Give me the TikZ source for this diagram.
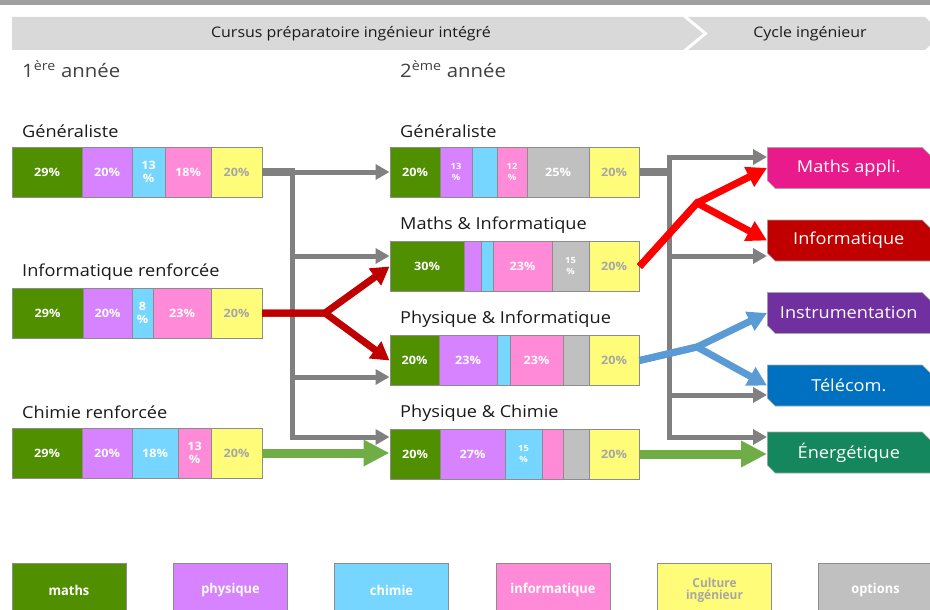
\documentclass[tikz,border=0pt]{standalone}
\usepackage{fontspec}
\setmainfont{Open Sans}[FakeStretch=1.1]
\newfontfamily\legfont{Open Sans}[FakeStretch=0.95]
\usetikzlibrary{arrows.meta,shapes.misc}
\definecolor{cg}{HTML}{4F8F00}
\definecolor{cp}{HTML}{D783FF}
\definecolor{cb}{HTML}{76D6FF}
\definecolor{cpk}{HTML}{FF8AD8}
\definecolor{cy}{HTML}{FFFC79}
\definecolor{cs}{HTML}{C0C0C0}
\definecolor{cellborder}{HTML}{8C8C8C}
\definecolor{ytext}{HTML}{A6A6A6}
\definecolor{banner}{HTML}{D9D9D9}
\definecolor{topbar}{HTML}{A0A0A0}
\definecolor{arrgray}{HTML}{808080}
\definecolor{darkred}{HTML}{C00000}
\definecolor{brightred}{HTML}{FF0000}
\definecolor{arrblue}{HTML}{5B9BD5}
\definecolor{arrgreen}{HTML}{70AD47}
\definecolor{rmaths}{HTML}{E91A8B}
\definecolor{rinfo}{HTML}{C00000}
\definecolor{rinstr}{HTML}{7030A0}
\definecolor{rtele}{HTML}{0070C0}
\definecolor{renerg}{HTML}{15875E}
\definecolor{txt}{HTML}{1A1A1A}
\newcommand\mycell[7][]{\node[cell,fill=#6,minimum width={(#4-#3)*1pt},#1] (#2) at ({(#3+#4)/2},#5) {#7};}
\begin{document}
\begin{tikzpicture}[x=1pt,y=-1pt,
  cell/.style={draw=cellborder,line width=0.8pt,minimum height=50pt,inner sep=0pt,outer sep=0pt,
    font=\fontsize{11.5}{13.5}\selectfont\bfseries,align=center,text=white},
  ycell/.style={text=ytext},
  small/.style={font=\fontsize{8.5}{11}\selectfont\bfseries},
  barbox/.style={minimum height=50pt,inner sep=0pt,outer sep=0pt,draw=none},
  lab/.style={anchor=west,font=\fontsize{16.5}{18}\selectfont,text=txt,inner sep=0pt},
  year/.style={anchor=west,font=\fontsize{18.5}{20}\selectfont,text=black!75,inner sep=0pt},
  dest/.style={chamfered rectangle,chamfered rectangle corners={north east,south west},
    chamfered rectangle xsep=4pt,chamfered rectangle ysep=4pt,minimum width=163pt,minimum height=41pt,
    draw=gray!70,line width=0.6pt,text=white,font=\fontsize{16.5}{18}\selectfont,anchor=west,inner sep=0pt},
  legendbox/.style={draw=cellborder,line width=0.8pt,minimum width=114pt,minimum height=54pt,
    inner sep=0pt,font=\legfont\fontsize{13.5}{13.5}\selectfont\bfseries,align=center,text=white},
  grayarr/.style={draw=arrgray,line width=5pt,-{Triangle[length=14pt,width=15pt]}},
  grayline/.style={draw=arrgray,line width=5pt},
  graythick/.style={draw=arrgray,line width=8pt},
  redarr/.style={draw=darkred,line width=7pt,line join=miter,-{Triangle[length=18pt,width=20pt]}},
  bredarr/.style={draw=brightred,line width=7pt,line join=miter,-{Triangle[length=20pt,width=21pt]}},
  bluearr/.style={draw=arrblue,line width=7pt,line join=miter,-{Triangle[length=19pt,width=20pt]}},
  greenarr/.style={draw=arrgreen,line width=9pt,-{Triangle[length=26pt,width=25pt]}}
]
\useasboundingbox (0,0) rectangle (930,610);
\clip (0,0) rectangle (930,610);
% top bar and banner
\fill[topbar] (0,0) rectangle (930,5.5);
\fill[banner] (12,17) -- (683,17) -- (703,33.5) -- (683,50) -- (12,50) -- cycle;
\fill[banner] (688,17) -- (925,17) -- (942,33.5) -- (925,50) -- (688,50) -- (708,33.5) -- cycle;
\node[font=\fontsize{14.5}{16}\selectfont,text=txt] (bannerA) at (351,34) {Cursus préparatoire ingénieur intégré};
\node[font=\fontsize{14.5}{16}\selectfont,text=txt] (bannerB) at (810,34) {Cycle ingénieur};
\node[year] (y1) at (22,69) {1\textsuperscript{ère} année};
\node[year] (y2) at (400,69) {2\textsuperscript{ème} année};
% left labels
\node[lab] (tL1) at (22,131) {Généraliste};
\node[lab] (tL2) at (22,272) {Informatique renforcée};
\node[lab] (tL3) at (22,412) {Chimie renforcée};
% middle labels
\node[lab] (tM1) at (400,131) {Généraliste};
\node[lab] (tM2) at (400,225) {Maths \& Informatique};
\node[lab] (tM3) at (400,319) {Physique \& Informatique};
\node[lab] (tM4) at (400,413) {Physique \& Chimie};
% bar boxes
\node[barbox,minimum width=250pt] (L1) at (137,172) {};
\node[barbox,minimum width=250pt] (L2) at (137,313) {};
\node[barbox,minimum width=250pt] (L3) at (137,453) {};
\node[barbox,minimum width=250pt] (M1) at (514.5,172) {};
\node[barbox,minimum width=250pt] (M2) at (514.5,266.5) {};
\node[barbox,minimum width=250pt] (M3) at (514.5,360.5) {};
\node[barbox,minimum width=250pt] (M4) at (514.5,454) {};
% cells L1
\mycell{a1}{12}{82}{172}{cg}{29\%}
\mycell{a2}{82}{132}{172}{cp}{20\%}
\mycell{a3}{132}{165}{172}{cb}{13\\\%}
\mycell{a4}{165}{211}{172}{cpk}{18\%}
\mycell[ycell]{a5}{211}{262}{172}{cy}{20\%}
% cells L2
\mycell{b1}{12}{83}{313}{cg}{29\%}
\mycell{b2}{83}{132}{313}{cp}{20\%}
\mycell{b3}{132}{153}{313}{cb}{8\\\%}
\mycell{b4}{153}{211}{313}{cpk}{23\%}
\mycell[ycell]{b5}{211}{262}{313}{cy}{20\%}
% cells L3
\mycell{c1}{12}{82}{453}{cg}{29\%}
\mycell{c2}{82}{132}{453}{cp}{20\%}
\mycell{c3}{132}{178}{453}{cb}{18\%}
\mycell{c4}{178}{211}{453}{cpk}{13\\\%}
\mycell[ycell]{c5}{211}{262}{453}{cy}{20\%}
% cells M1
\mycell{d1}{390}{440}{172}{cg}{20\%}
\mycell[small]{d2}{440}{472}{172}{cp}{13\\\%}
\mycell{d3}{472}{497}{172}{cb}{}
\mycell[small]{d4}{497}{527}{172}{cpk}{12\\\%}
\mycell{d5}{527}{589}{172}{cs}{25\%}
\mycell[ycell]{d6}{589}{639}{172}{cy}{20\%}
% cells M2
\mycell{e1}{390}{464}{266.5}{cg}{30\%}
\mycell{e2}{464}{481}{266.5}{cp}{}
\mycell{e3}{481}{493}{266.5}{cb}{}
\mycell{e4}{493}{552}{266.5}{cpk}{23\%}
\mycell[small]{e5}{552}{589}{266.5}{cs}{15\\\%}
\mycell[ycell]{e6}{589}{639}{266.5}{cy}{20\%}
% cells M3
\mycell{f1}{390}{439}{360.5}{cg}{20\%}
\mycell{f2}{439}{497}{360.5}{cp}{23\%}
\mycell{f3}{497}{510}{360.5}{cb}{}
\mycell{f4}{510}{563}{360.5}{cpk}{23\%}
\mycell{f5}{563}{589}{360.5}{cs}{}
\mycell[ycell]{f6}{589}{639}{360.5}{cy}{20\%}
% cells M4
\mycell{g1}{390}{440}{454}{cg}{20\%}
\mycell{g2}{440}{505}{454}{cp}{27\%}
\mycell[small]{g3}{505}{542}{454}{cb}{15\\\%}
\mycell{g4}{542}{563}{454}{cpk}{}
\mycell{g5}{563}{589}{454}{cs}{}
\mycell[ycell]{g6}{589}{639}{454}{cy}{20\%}
% destination boxes
\node[dest,fill=rmaths] (R1) at (767,168) {Maths appli.};
\node[dest,fill=rinfo] (R2) at (767,240.5) {Informatique};
\node[dest,fill=rinstr] (R3) at (767,313) {Instrumentation};
\node[dest,fill=rtele] (R4) at (767,385.5) {Télécom.};
\node[dest,fill=renerg] (R5) at (767,452.5) {Énergétique};
% left gray connectors
\coordinate (lvt) at (292,168);
\coordinate (lv1) at (292,172);
\coordinate (lv2) at (292,256);
\coordinate (lv3) at (292,377);
\coordinate (lv4) at (292,437);
\draw[graythick] (L1.east) -- (lv1);
\draw[grayline] (lvt) -- (292,439.5);
\draw[grayarr] (lv1) -- (M1.west);
\draw[grayarr] (lv2) -- (lv2 -| M2.west);
\draw[grayarr] (lv3) -- (lv3 -| M3.west);
\draw[grayarr] (lv4) -- (lv4 -| M4.west);
% right gray connectors
\coordinate (rvt) at (669,154.5);
\coordinate (rv0) at (669,172);
\coordinate (rv1) at (669,157);
\coordinate (rv2) at (669,256);
\coordinate (rv3) at (669,395);
\coordinate (rv4) at (669,437);
\draw[graythick] (M1.east) -- (rv0);
\draw[grayline] (rvt) -- (669,439.5);
\draw[grayarr] (rv1) -- (rv1 -| R1.west);
\draw[grayarr] (rv2) -- (rv2 -| R2.west);
\draw[grayarr] (rv3) -- (rv3 -| R4.west);
\draw[grayarr] (rv4) -- (rv4 -| R5.west);
% red from Informatique renforcee
\coordinate (br1) at (325,313);
\draw[redarr] (L2.east) -- (br1) -- (M2.west);
\draw[redarr] (L2.east) -- (br1) -- (M3.west);
% green
\draw[greenarr] (L3.east) -- (L3.east -| M4.west);
\draw[greenarr] (M4.east) -- (M4.east -| R5.west);
% bright red
\coordinate (br2) at (697,203);
\draw[bredarr] (M2.east) -- (br2) -- (R1.west);
\draw[bredarr] (M2.east) -- (br2) -- (R2.west);
% blue
\coordinate (br3) at (697,347);
\draw[bluearr] (M3.east) -- (br3) -- (R3.west);
\draw[bluearr] (M3.east) -- (br3) -- (R4.west);
% legend
\node[legendbox,fill=cg] (k1) at (69,590) {maths};
\node[legendbox,fill=cp] (k2) at (230.5,590) {physique};
\node[legendbox,fill=cb] (k3) at (391.5,590) {chimie};
\node[legendbox,fill=cpk] (k4) at (553,590) {informatique};
\node[legendbox,fill=cy,text=ytext,font=\legfont\fontsize{12.5}{12.5}\selectfont\bfseries] (k5) at (714.5,590) {Culture\\ingénieur};
\node[legendbox,fill=cs] (k6) at (875.5,590) {options};
\end{tikzpicture}
\end{document}
